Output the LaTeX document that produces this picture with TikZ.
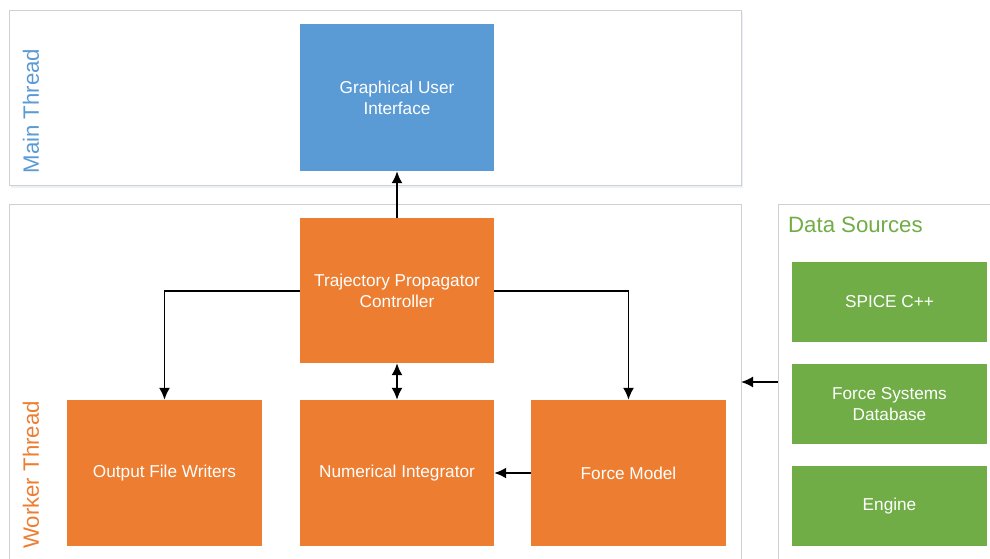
\documentclass[tikz,border=0pt]{standalone}
\usepackage{fontspec}
\setmainfont{Liberation Sans}
\usetikzlibrary{arrows.meta}
\definecolor{cblue}{HTML}{5B9BD5}
\definecolor{corange}{HTML}{ED7D31}
\definecolor{cgreen}{HTML}{70AD47}
\definecolor{cframe}{HTML}{D0D0D0}
\tikzset{
  frame/.style={draw=cframe, line width=1pt, fill=white},
  blk/.style={draw=none, text=white, align=center, font=\fontsize{17.2}{21}\selectfont, inner sep=0pt},
  lbl/.style={font=\fontsize{22.2}{25}\selectfont, inner sep=0pt},
  conn/.style={line width=1.8pt, -{Latex[length=12pt,width=11pt]}},
  conn2/.style={line width=1.8pt, {Latex[length=12pt,width=11pt]}-{Latex[length=12pt,width=11pt]}}
}
\begin{document}
\begin{tikzpicture}[x=1pt,y=-1pt]
\useasboundingbox (0,0) rectangle (990,558);
% frames
\fill[cblue!12] (11,12) rectangle (743,188);
\draw[frame] (9,10) rectangle (741,185);
\draw[frame] (9,204) -- (9,570) (9,204) -- (741,204) -- (741,570);
\draw[frame] (778,570) -- (778,204) -- (1000,204);
% labels
\node[lbl, text=cblue, rotate=90] (lmain) at (31,111) {Main Thread};
\node[lbl, text=corange, rotate=90] (lwork) at (31,475) {Worker Thread};
\node[lbl, text=cgreen, anchor=west] (lds) at (788,225) {Data Sources};
% blocks
\node[blk, fill=cblue, minimum width=194pt, minimum height=147pt] (gui) at (397,97.5) {Graphical User\\Interface};
\node[blk, fill=corange, minimum width=194pt, minimum height=145pt] (tpc) at (397,290.5) {Trajectory Propagator\\Controller};
\node[blk, fill=corange, minimum width=195pt, minimum height=146pt] (ofw) at (164.5,473) {Output File Writers};
\node[blk, fill=corange, minimum width=194pt, minimum height=146pt] (ni) at (397,473) {Numerical Integrator};
\node[blk, fill=corange, minimum width=195pt, minimum height=146pt] (fm) at (628.5,473) {Force Model};
\node[blk, fill=cgreen, minimum width=195pt, minimum height=80pt] (spice) at (889.5,302) {SPICE C++};
\node[blk, fill=cgreen, minimum width=195pt, minimum height=80pt] (fsd) at (889.5,404) {Force Systems\\Database};
\node[blk, fill=cgreen, minimum width=195pt, minimum height=80pt] (eng) at (889.5,506) {Engine};
% connector endpoints
\coordinate (dsL) at (778,382);
\coordinate (wkR) at (741,382);
% connectors
\draw[conn] (tpc.north) -- (gui.south);
\draw[conn] (tpc.west |- 0,291) -| (ofw.north);
\draw[conn] (tpc.east |- 0,291) -| (fm.north);
\draw[conn2] (tpc.south) -- (ni.north);
\draw[conn] (fm.west) -- (ni.east);
\draw[conn] (dsL) -- (wkR);
\end{tikzpicture}
\end{document}
